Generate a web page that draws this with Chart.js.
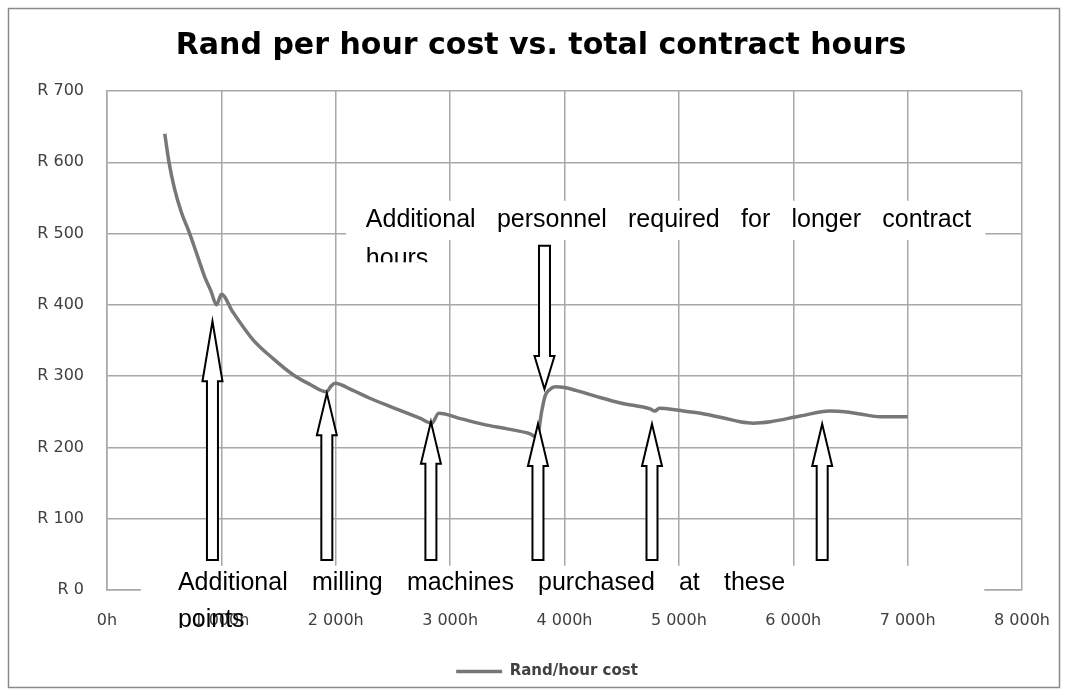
<!DOCTYPE html>
<html>
<head>
<meta charset="utf-8">
<script src="https://cdn.jsdelivr.net/npm/chart.js@4.4.1/dist/chart.umd.min.js"></script>
<style>
html,body{margin:0;padding:0;background:#fff;}
#wrap{width:1068px;height:696px;}
</style>
</head>
<body>
<div id="wrap"><canvas id="c" width="1068" height="696"></canvas></div>
<script>
// ---- data ----
const chartTitle = 'Rand per hour cost vs. total contract hours';
const seriesName = 'Rand/hour cost';
const hours = [505, 540, 590, 650, 723, 790, 855, 910, 957, 985, 1000, 1100, 1277, 1450, 1627, 1780, 1918, 1960, 1992, 2150, 2298, 2500, 2735, 2840, 2900, 3100, 3300, 3500, 3700, 3760, 3800, 3830, 3870, 3920, 4000, 4100, 4310, 4500, 4750, 4790, 4830, 5000, 5190, 5400, 5535, 5650, 5800, 6060, 6320, 6450, 6585, 6760, 7000];
const costs = [640, 602, 563, 530, 500, 469, 439, 419, 400, 410, 415, 390, 351, 325, 302, 288, 278, 286, 290, 280, 269, 256, 241, 234, 248, 240, 232, 226, 219, 214, 250, 272, 281, 285, 284, 280, 270, 262, 254, 251, 255, 252, 248, 241, 236, 234, 236, 244, 251, 250, 247, 243, 243];
const xTickLabels = ['0h', '1 000h', '2 000h', '3 000h', '4 000h', '5 000h', '6 000h', '7 000h', '8 000h'];
const yTickLabels = ['R 0', 'R 100', 'R 200', 'R 300', 'R 400', 'R 500', 'R 600', 'R 700'];

// annotation content (arrows anchored in data units)
const machineArrowHours = [922, 1922, 2832, 3768, 4765, 6253];
const machineArrowTips  = [377, 276, 236, 233, 233, 233];
const personnelArrowHour = 3825;
const personnelArrowTop = 483;
const personnelArrowTip = 282;
const notePersonnelLines = ['Additional personnel required for longer contract', 'hours'];
const noteMachinesLines = ['Additional milling machines purchased at these', 'points'];

// ---- drawing helpers for the annotation layer ----
function blockArrow(ctx, cx, tipY, endY, headLen, dir) {
  const hw = 10, sw = 5.5;
  const hb = tipY + dir * headLen;
  ctx.beginPath();
  ctx.moveTo(cx, tipY);
  ctx.lineTo(cx + hw, hb);
  ctx.lineTo(cx + sw, hb);
  ctx.lineTo(cx + sw, endY);
  ctx.lineTo(cx - sw, endY);
  ctx.lineTo(cx - sw, hb);
  ctx.lineTo(cx - hw, hb);
  ctx.closePath();
  ctx.fillStyle = '#ffffff';
  ctx.fill();
  ctx.lineWidth = 2;
  ctx.strokeStyle = '#000000';
  ctx.lineJoin = 'miter';
  ctx.stroke();
}
function justifyLine(ctx, text, x0, x1, y) {
  const words = text.split(' ');
  const widths = words.map(w => ctx.measureText(w).width);
  const total = widths.reduce((a, b) => a + b, 0);
  const gap = words.length > 1 ? (x1 - x0 - total) / (words.length - 1) : 0;
  let x = x0;
  words.forEach((w, i) => { ctx.fillText(w, x, y); x += widths[i] + gap; });
}

const framePlugin = {
  id: 'frame',
  beforeDraw(chart) {
    const ctx = chart.ctx;
    ctx.save();
    ctx.fillStyle = '#ffffff';
    ctx.fillRect(0, 0, chart.width, chart.height);
    ctx.strokeStyle = '#8a8a8a';
    ctx.lineWidth = 1.5;
    ctx.strokeRect(8.5, 8.5, chart.width - 17, chart.height - 17);
    ctx.restore();
  }
};

// shift title / legend blocks so they centre where the reference has them
const blockShiftPlugin = {
  id: 'blockShift',
  afterLayout(chart) {
    if (chart.titleBlock) chart.titleBlock.left = 60;
    if (chart.legend) chart.legend.left = 72;
  }
};

const notesPlugin = {
  id: 'notes',
  afterDraw(chart) {
    const ctx = chart.ctx;
    const xs = chart.scales.x, ys = chart.scales.y;
    const X = v => xs.getPixelForValue(v);
    const Y = v => ys.getPixelForValue(v);
    ctx.save();
    const shaftEnd = Y(42);
    machineArrowHours.forEach((h, i) => {
      const head = i === 0 ? 60 : 42;
      blockArrow(ctx, X(h), Y(machineArrowTips[i]), shaftEnd, head, 1);
    });
    blockArrow(ctx, X(personnelArrowHour), Y(personnelArrowTip), Y(personnelArrowTop), 33, -1);

    ctx.font = '25px "Liberation Sans", Arial, sans-serif';
    ctx.fillStyle = '#000000';
    ctx.textBaseline = 'alphabetic';
    ctx.textAlign = 'left';

    // top note box
    const tL = X(2263), tR = X(7556), tBase = Y(509);
    ctx.save();
    ctx.fillStyle = '#ffffff';
    ctx.fillRect(X(2090), Y(546), X(7680) - X(2090), Y(491) - Y(546));
    ctx.restore();
    ctx.save();
    ctx.beginPath();
    ctx.rect(tL - 5, tBase - 40, tR - tL + 10, 75);
    ctx.clip();
    justifyLine(ctx, notePersonnelLines[0], tL, tR, tBase);
    ctx.fillText(notePersonnelLines[1], tL, tBase + 39);
    ctx.restore();

    // bottom note box
    const bL = X(620), bR = X(5929), bBase = Y(0);
    ctx.save();
    ctx.fillStyle = '#ffffff';
    ctx.fillRect(X(296), Y(34), X(7670) - X(296), Y(-14) - Y(34));
    ctx.restore();
    ctx.save();
    ctx.beginPath();
    ctx.rect(bL - 5, bBase - 40, bR - bL + 10, 78);
    ctx.clip();
    justifyLine(ctx, noteMachinesLines[0], bL, bR, bBase);
    ctx.fillText(noteMachinesLines[1], bL, bBase + 37);
    ctx.restore();

    ctx.restore();
  }
};

const gridColor = '#a8a8a8';
const tickFont = { family: '"DejaVu Sans", sans-serif', size: 16 };

new Chart(document.getElementById('c'), {
  type: 'line',
  data: {
    datasets: [{
      label: seriesName,
      data: hours.map((h, i) => ({ x: h, y: costs[i] })),
      borderColor: '#777777',
      backgroundColor: '#777777',
      borderWidth: 3.5,
      pointRadius: 0,
      cubicInterpolationMode: 'monotone',
      fill: false
    }]
  },
  options: {
    responsive: false,
    animation: false,
    devicePixelRatio: 1,
    layout: { padding: { left: 10, right: 46, top: 10, bottom: 7 } },
    plugins: {
      title: {
        display: true,
        text: chartTitle,
        color: '#000000',
        font: { family: '"DejaVu Sans", sans-serif', size: 30, weight: 'bold', lineHeight: 1.2 },
        padding: { top: 18, bottom: 27 }
      },
      legend: {
        display: true,
        position: 'bottom',
        labels: {
          usePointStyle: true,
          pointStyle: 'line',
          pointStyleWidth: 46,
          color: '#404040',
          padding: 10,
          font: { family: '"DejaVu Sans", sans-serif', size: 15, weight: 'bold' }
        }
      },
      tooltip: { enabled: false }
    },
    scales: {
      x: {
        type: 'linear',
        min: 0, max: 8000,
        ticks: {
          stepSize: 1000,
          autoSkip: false,
          maxRotation: 0,
          padding: 21,
          color: '#404040',
          font: tickFont,
          callback: (v, i) => xTickLabels[i]
        },
        grid: { color: gridColor, lineWidth: 1.5, drawTicks: false },
        border: { color: gridColor, width: 1.5 },
        afterFit: s => { s.height = 64; s.paddingRight = 0; }
      },
      y: {
        min: 0, max: 700,
        ticks: {
          stepSize: 100,
          padding: 23,
          color: '#404040',
          font: tickFont,
          callback: (v, i) => yTickLabels[i]
        },
        grid: { color: gridColor, lineWidth: 1.5, drawTicks: false },
        border: { color: gridColor, width: 1.5 },
        afterFit: s => { s.width = 97; }
      }
    }
  },
  plugins: [framePlugin, blockShiftPlugin, notesPlugin]
});
</script>
</body>
</html>
